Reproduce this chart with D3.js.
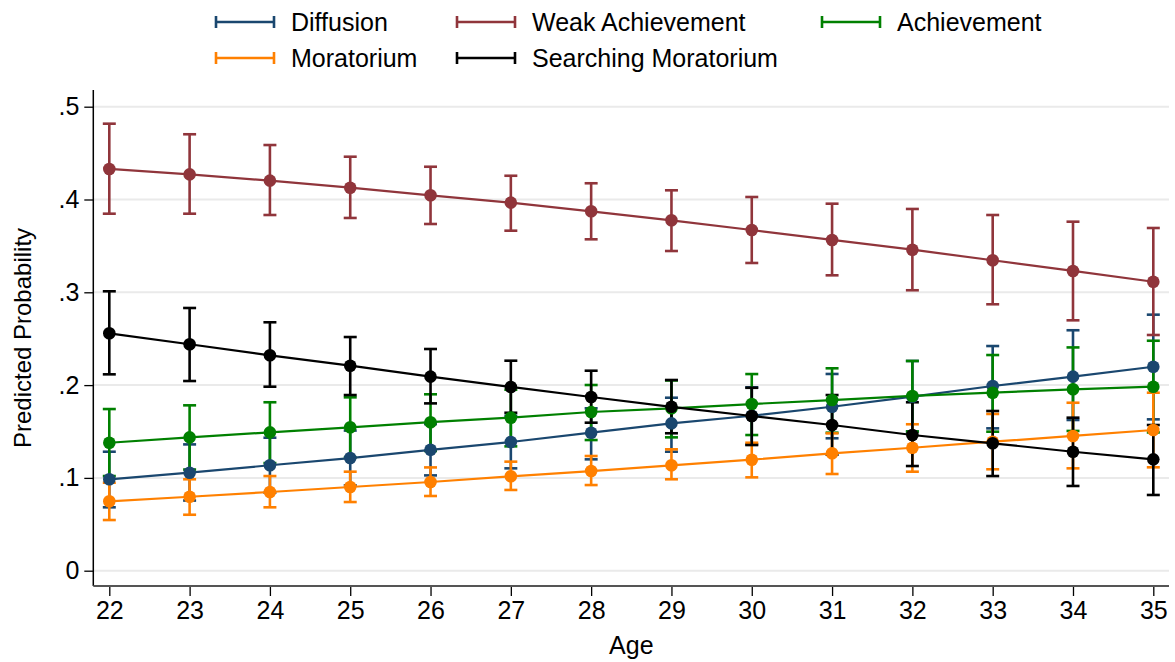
<!DOCTYPE html>
<html>
<head>
<meta charset="utf-8">
<script src="https://cdn.jsdelivr.net/npm/d3@7"></script>
<style>
  body { margin: 0; background: #fff; }
  svg text { font-family: "Liberation Sans", Arial, sans-serif; fill: #000; }
</style>
</head>
<body>
<div id="chart"></div>
<script>
var ages = [22, 23, 24, 25, 26, 27, 28, 29, 30, 31, 32, 33, 34, 35]
var yTicks = [0, .1, .2, .3, .4, .5]

var diffusionEst = [.0985, .1056, .1136, .1214, .1303, .1387, .1487, .1588, .1670, .1767, .1875, .1990, .2091, .2198]
var diffusionLo  = [.0683, .0756, .0840, .0920, .1027, .1103, .1200, .1282, .1360, .1427, .1500, .1534, .1624, .1631]
var diffusionHi  = [.1282, .1361, .1433, .1510, .1580, .1670, .1750, .1864, .1976, .2120, .2260, .2421, .2591, .2759]

var weakEst = [.4329, .4271, .4203, .4127, .4045, .3966, .3873, .3776, .3671, .3564, .3459, .3345, .3230, .3114]
var weakLo  = [.3847, .3847, .3833, .3801, .3736, .3664, .3571, .3445, .3316, .3183, .3022, .2871, .2698, .2540]
var weakHi  = [.4817, .4703, .4587, .4461, .4353, .4256, .4175, .4099, .4027, .3955, .3898, .3833, .3761, .3693]

var achEst = [.1379, .1437, .1491, .1545, .1600, .1649, .1710, .1750, .1796, .1839, .1883, .1918, .1955, .1983]
var achLo  = [.1020, .1090, .1160, .1220, .1290, .1340, .1408, .1437, .1462, .1487, .1500, .1498, .1506, .1490]
var achHi  = [.1742, .1782, .1815, .1868, .1901, .1950, .2001, .2050, .2119, .2181, .2260, .2324, .2406, .2478]

var morEst = [.0748, .0797, .0848, .0902, .0956, .1017, .1074, .1136, .1196, .1265, .1325, .1390, .1452, .1516]
var morLo  = [.0546, .0603, .0683, .0740, .0805, .0870, .0923, .0985, .1006, .1042, .1067, .1093, .1103, .1114]
var morHi  = [.0948, .0985, .1020, .1067, .1113, .1175, .1236, .1308, .1379, .1480, .1578, .1689, .1810, .1918]

var searchEst = [.2558, .2440, .2321, .2209, .2091, .1980, .1872, .1766, .1667, .1570, .1462, .1373, .1282, .1200]
var searchLo  = [.2116, .2044, .1983, .1893, .1803, .1702, .1595, .1481, .1354, .1250, .1128, .1020, .0913, .0816]
var searchHi  = [.3011, .2831, .2677, .2518, .2389, .2263, .2155, .2055, .1971, .1893, .1815, .1721, .1649, .1570]

var series = [
  {name: 'Diffusion',            color: '#1a476f', est: diffusionEst, lo: diffusionLo, hi: diffusionHi},
  {name: 'Weak Achievement',     color: '#90353b', est: weakEst,      lo: weakLo,      hi: weakHi},
  {name: 'Achievement',          color: '#008000', est: achEst,       lo: achLo,       hi: achHi},
  {name: 'Moratorium',           color: '#ff8000', est: morEst,       lo: morLo,       hi: morHi},
  {name: 'Searching Moratorium', color: '#000000', est: searchEst,    lo: searchLo,    hi: searchHi}
]

var W = 1175, H = 662
var svg = d3.select('#chart').append('svg').attr('width', W).attr('height', H)

var plotL = 93.3, plotR = 1169, plotT = 90, plotB = 586
var x = d3.scaleLinear().domain([22, 35]).range([109.3, 1153.3])
var y = d3.scaleLinear().domain([0, .5]).range([570.7, 106.7])

// grid
svg.append('g').selectAll('line').data(yTicks).join('line')
  .attr('x1', plotL).attr('x2', plotR)
  .attr('y1', d => y(d)).attr('y2', d => y(d))
  .attr('stroke', '#eaeaea').attr('stroke-width', 2)

// axes
var fmt = d => d === 0 ? '0' : d3.format('.1f')(d).replace(/^0/, '')
var yAxis = svg.append('g').attr('transform', 'translate(' + plotL + ',0)')
  .call(d3.axisLeft(y).tickValues(yTicks).tickFormat(fmt).tickSize(9).tickPadding(5))
yAxis.select('.domain').remove()
yAxis.selectAll('text').style('font-size', '25px')
yAxis.selectAll('.tick line').attr('stroke', '#000').attr('stroke-width', 1.3)
svg.append('line').attr('x1', plotL).attr('x2', plotL).attr('y1', plotT).attr('y2', plotB)
  .attr('stroke', '#000').attr('stroke-width', 1.5)

var xAxis = svg.append('g').attr('transform', 'translate(0,' + plotB + ')')
  .call(d3.axisBottom(x).tickValues(ages).tickFormat(d3.format('d')).tickSize(10).tickPadding(5))
xAxis.select('.domain').remove()
xAxis.selectAll('text').style('font-size', '25px')
xAxis.selectAll('.tick line').attr('stroke', '#000').attr('stroke-width', 1.3)
svg.append('line').attr('x1', plotL).attr('x2', plotR).attr('y1', plotB).attr('y2', plotB)
  .attr('stroke', '#555').attr('stroke-width', 1.8)

svg.append('text').attr('x', (x(22) + x(35)) / 2).attr('y', 654).attr('text-anchor', 'middle')
  .style('font-size', '25px').text('Age')
svg.append('text').attr('transform', 'translate(31,' + (plotT + plotB) / 2 + ') rotate(-90)')
  .attr('text-anchor', 'middle').style('font-size', '24px').text('Predicted Probability')

// confidence intervals
var cap = 6.5
series.forEach(function(s){
  var g = svg.append('g').attr('stroke', s.color).attr('stroke-width', 2.6)
  ages.forEach(function(a, i){
    var cx = x(a)
    g.append('line').attr('x1', cx).attr('x2', cx).attr('y1', y(s.lo[i])).attr('y2', y(s.hi[i]))
    g.append('line').attr('x1', cx - cap).attr('x2', cx + cap).attr('y1', y(s.lo[i])).attr('y2', y(s.lo[i]))
    g.append('line').attr('x1', cx - cap).attr('x2', cx + cap).attr('y1', y(s.hi[i])).attr('y2', y(s.hi[i]))
  })
})

// lines and markers
var line = d3.line().x((d, i) => x(ages[i])).y(d => y(d))
series.forEach(function(s){
  svg.append('path').attr('d', line(s.est)).attr('fill', 'none')
    .attr('stroke', s.color).attr('stroke-width', 2.2)
  svg.append('g').selectAll('circle').data(s.est).join('circle')
    .attr('cx', (d, i) => x(ages[i])).attr('cy', d => y(d)).attr('r', 6.3)
    .attr('fill', s.color)
})

// legend
var legX = [216, 457, 822]
var legY = [22, 58]
series.forEach(function(s, i){
  var lx = legX[i % 3], ly = legY[Math.floor(i / 3)]
  var g = svg.append('g').attr('stroke', s.color).attr('stroke-width', 2.6)
  g.append('line').attr('x1', lx).attr('x2', lx + 58).attr('y1', ly).attr('y2', ly)
  g.append('line').attr('x1', lx).attr('x2', lx).attr('y1', ly - 6).attr('y2', ly + 6)
  g.append('line').attr('x1', lx + 58).attr('x2', lx + 58).attr('y1', ly - 6).attr('y2', ly + 6)
  svg.append('text').attr('x', lx + 75).attr('y', ly).attr('dy', '0.35em')
    .style('font-size', '25px').text(s.name)
})
</script>
</body>
</html>
